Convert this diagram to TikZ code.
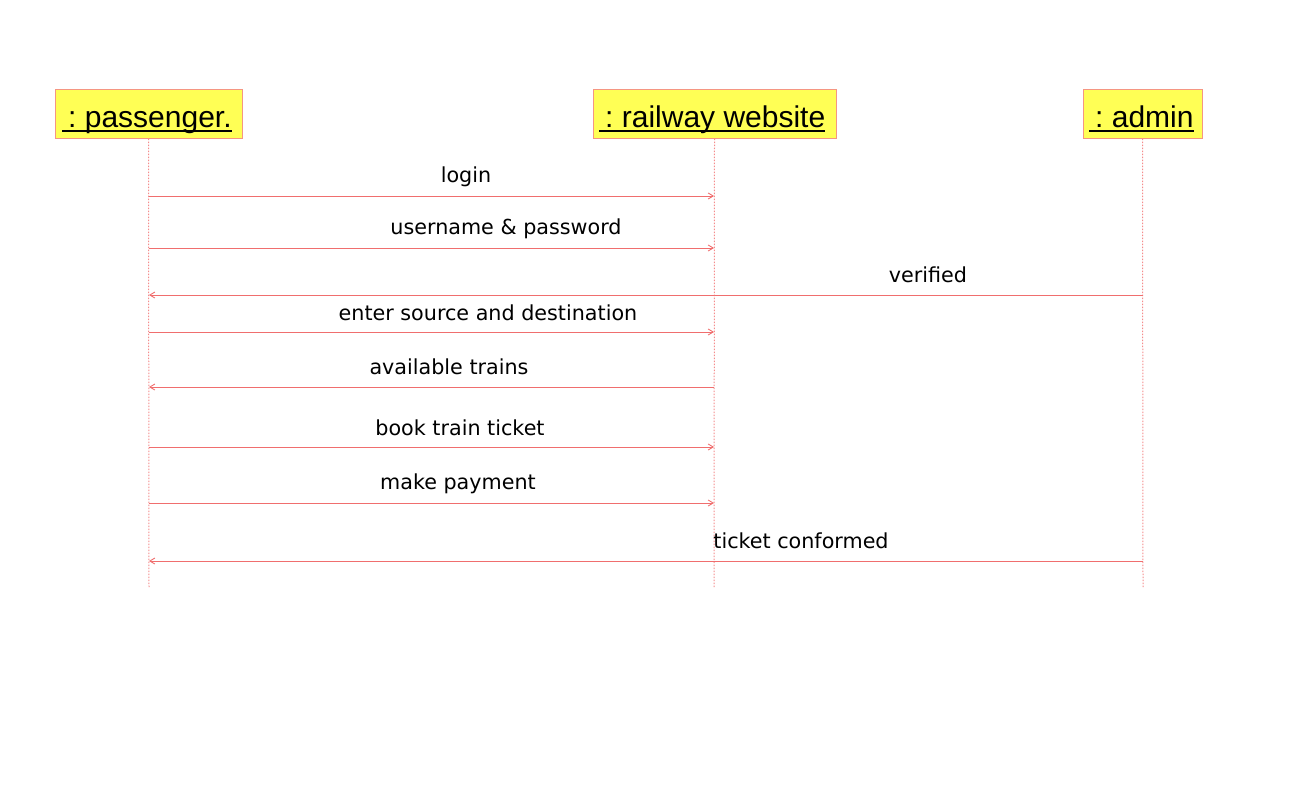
\documentclass[tikz,border=0pt]{standalone}
\usepackage{fontspec}
\setmainfont{Liberation Sans}
\newfontfamily\lblfont{DejaVu Sans}
\usetikzlibrary{arrows.meta}
\definecolor{lnred}{RGB}{240,110,110}
\definecolor{lifered}{RGB}{245,140,140}
\definecolor{boxyel}{RGB}{255,255,85}
\definecolor{boxedge}{RGB}{245,150,130}
\tikzset{
  objbox/.style={draw=boxedge, line width=1pt, fill=boxyel, minimum height=49pt, inner sep=0pt},
  objtxt/.style={font=\fontsize{30}{32}\selectfont, text=black, inner sep=0pt, anchor=base west},
  uline/.style={draw=black, line width=1.6pt},
  lifeline/.style={draw=lifered, line width=1pt, dash pattern=on 1.5pt off 1.5pt},
  msg/.style={draw=lnred, line width=0.9pt, -{Straight Barb[length=5pt,width=6pt]}},
  lbl/.style={font=\lblfont\fontsize{20.7}{23}\selectfont, text=black, inner sep=0pt}
}
\begin{document}
\begin{tikzpicture}[x=1pt,y=-1pt]
\useasboundingbox (0,0) rectangle (1292,792);
\fill[white] (0,0) rectangle (1292,792);
% objects
\node[objbox, minimum width=187pt] (pas) at (148.5,113.5) {};
\node[objbox, minimum width=243pt] (web) at (714.5,113.5) {};
\node[objbox, minimum width=119pt] (adm) at (1142.5,113.5) {};
\node[objtxt] (past) at (62,127) {\hspace*{6pt}:\ passenger.};
\node[objtxt] (webt) at (599,127) {\hspace*{6pt}:\ railway website};
\node[objtxt] (admt) at (1089,127) {\hspace*{6pt}:\ admin};
\draw[uline] ([yshift=-4pt]past.base west) -- ([yshift=-4pt]past.base east);
\draw[uline] ([yshift=-4pt]webt.base west) -- ([yshift=-4pt]webt.base east);
\draw[uline] ([yshift=-4pt]admt.base west) -- ([yshift=-4pt]admt.base east);
% lifeline ends
\coordinate (pasEnd) at (149,588);
\coordinate (webEnd) at (714,588);
\coordinate (admEnd) at (1143,588);
\draw[lifeline] (pas.south) -- (pasEnd);
\draw[lifeline] (web.south) -- (webEnd);
\draw[lifeline] (adm.south) -- (admEnd);
% message points
\foreach \n/\y in {1/196,2/248,3/295,4/332,5/387,6/447,7/503,8/561}{
  \coordinate (p\n) at (149,\y);
  \coordinate (w\n) at (714,\y);
  \coordinate (a\n) at (1143,\y);
}
\draw[msg] (p1) -- (w1);
\draw[msg] (p2) -- (w2);
\draw[msg] (a3) -- (p3);
\draw[msg] (p4) -- (w4);
\draw[msg] (w5) -- (p5);
\draw[msg] (p6) -- (w6);
\draw[msg] (p7) -- (w7);
\draw[msg] (a8) -- (p8);
% labels
\node[lbl] (l1) at (466,177) {login};
\node[lbl] (l2) at (506,229) {username \& password};
\node[lbl] (l3) at (928,275) {verified};
\node[lbl] (l4) at (488,313) {enter source and destination};
\node[lbl] (l5) at (449,367) {available trains};
\node[lbl] (l6) at (460,428) {book train ticket};
\node[lbl] (l7) at (458,484) {make payment};
\node[lbl] (l8) at (801,541) {ticket conformed};
\end{tikzpicture}
\end{document}
